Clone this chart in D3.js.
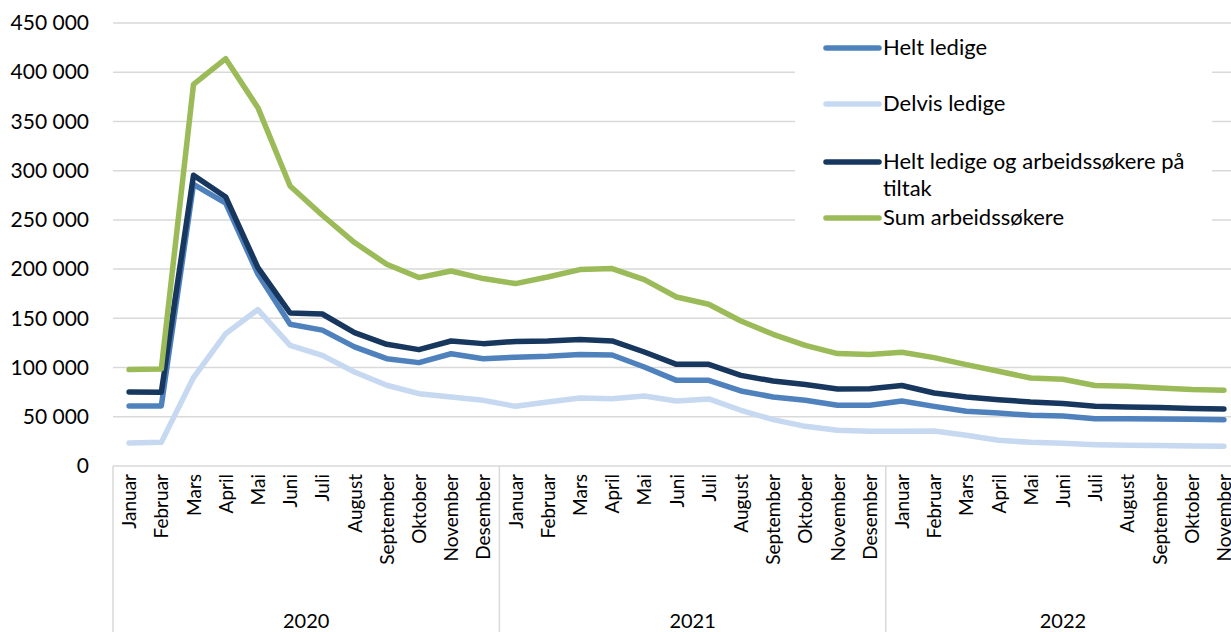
<!DOCTYPE html>
<html>
<head>
<meta charset="utf-8">
<script src="https://cdn.jsdelivr.net/npm/d3@7"></script>
<style>
  body { margin: 0; background: #fff; }
  svg { display: block; font-family: Lato, "Open Sans", sans-serif; }
</style>
</head>
<body>
<svg id="chart" width="1231" height="632"></svg>
<script>
var months = ["Januar", "Februar", "Mars", "April", "Mai", "Juni", "Juli", "August",
  "September", "Oktober", "November", "Desember"];
var years = ["2020", "2021", "2022"];
var monthsPerYear = [12, 12, 11];

var heltLedige = [61000, 61000, 286000, 267000, 195000, 144000, 138000, 121000, 109000, 105000, 114000, 109000,
  110500, 111400, 113200, 112800, 100600, 87000, 87000, 76200, 70100, 66700, 61700, 61700,
  66000, 60600, 55600, 53800, 51500, 50800, 48100, 48100, 47700, 47400, 47100];
var delvisLedige = [23400, 24000, 89800, 134500, 158900, 122600, 112400, 95500, 82000, 73500, 70100, 66700,
  60600, 65000, 69100, 68400, 71100, 66000, 68100, 56600, 47100, 40300, 36300, 35200,
  35400, 35600, 31200, 26100, 24100, 23100, 21700, 21000, 20700, 20300, 20000];
var heltOgTiltak = [75200, 74800, 295300, 273300, 201500, 155400, 154400, 135500, 123600, 118200, 127000, 124300,
  126500, 127000, 128400, 127000, 115800, 103300, 103300, 92100, 86300, 82700, 78200, 78400,
  81800, 74200, 70100, 67400, 65000, 63400, 60600, 59900, 59300, 58300, 57900];
var sumSokere = [97900, 98500, 387700, 413800, 364000, 284400, 254700, 227000, 204900, 191400, 198100, 190400,
  185300, 192000, 199500, 200500, 189300, 171700, 164300, 147300, 133800, 122600, 114200, 113200,
  115500, 110100, 103000, 96200, 89400, 88100, 81700, 81000, 79200, 77600, 76900];

var yTicks = [0, 50000, 100000, 150000, 200000, 250000, 300000, 350000, 400000, 450000];

var series = [
  { name: "Helt ledige", values: heltLedige, color: "#4f81bd" },
  { name: "Delvis ledige", values: delvisLedige, color: "#c6d9f1" },
  { name: "Helt ledige og arbeidssøkere på tiltak", values: heltOgTiltak, color: "#17375e" },
  { name: "Sum arbeidssøkere", values: sumSokere, color: "#9bbb59" }
];

// one label per month across all years
var labels = [];
years.forEach(function(y, i) {
  for (var m = 0; m < monthsPerYear[i]; m++) labels.push(y + "-" + m);
});

var svg = d3.select("#chart");
var plotLeft = 113, plotTop = 23, plotBottom = 466;
var x = d3.scaleBand().domain(labels).range([plotLeft, plotLeft + labels.length * 32.2]);
var y = d3.scaleLinear().domain([0, 450000]).range([plotBottom, plotTop]);
var fmt = function(d) { return d3.format(",")(d).replace(/,/g, " "); };

// gridlines
svg.append("g").selectAll("line")
  .data(yTicks.slice(1))
  .enter().append("line")
    .attr("x1", plotLeft)
    .attr("x2", 1231)
    .attr("y1", function(d) { return y(d); })
    .attr("y2", function(d) { return y(d); })
    .attr("stroke", "#d9d9d9")
    .attr("stroke-width", 1.5);

// y axis labels
var yAxis = svg.append("g")
  .attr("transform", "translate(" + plotLeft + ",0)")
  .call(d3.axisLeft(y).tickValues(yTicks).tickFormat(fmt).tickSize(0).tickPadding(24));
yAxis.select(".domain").remove();
yAxis.selectAll("text")
  .attr("font-size", 21)
  .attr("font-family", "Lato, 'Open Sans', sans-serif")
  .attr("fill", "#000");

// x axis line and year separators
svg.append("line")
  .attr("x1", plotLeft).attr("x2", 1231)
  .attr("y1", plotBottom).attr("y2", plotBottom)
  .attr("stroke", "#d9d9d9").attr("stroke-width", 1.5);

var start = 0;
years.forEach(function(yr, i) {
  var x0 = x(labels[start]);
  var x1 = x(labels[start + monthsPerYear[i] - 1]) + x.bandwidth();
  svg.append("line")
    .attr("x1", x0).attr("x2", x0)
    .attr("y1", plotBottom).attr("y2", 632)
    .attr("stroke", "#d9d9d9").attr("stroke-width", 1.5);
  svg.append("text")
    .attr("x", (x0 + x1) / 2)
    .attr("y", 628)
    .attr("text-anchor", "middle")
    .attr("font-size", 20)
    .text(yr);
  start += monthsPerYear[i];
});

// month labels, rotated
svg.append("g").selectAll("text")
  .data(labels)
  .enter().append("text")
    .attr("transform", function(d) {
      return "translate(" + (x(d) + x.bandwidth() / 2 + 7) + "," + (plotBottom + 8) + ") rotate(-90)";
    })
    .attr("text-anchor", "end")
    .attr("font-size", 19)
    .text(function(d) { return months[+d.split("-")[1]]; });

// lines
var line = d3.line()
  .x(function(d, i) { return x(labels[i]) + x.bandwidth() / 2; })
  .y(function(d) { return y(d); });

svg.append("g").selectAll("path")
  .data(series)
  .enter().append("path")
    .attr("d", function(s) { return line(s.values); })
    .attr("fill", "none")
    .attr("stroke", function(s) { return s.color; })
    .attr("stroke-width", 5.5)
    .attr("stroke-linejoin", "round")
    .attr("stroke-linecap", "round");

// legend
var legend = svg.append("g");
legend.append("rect")
  .attr("x", 795).attr("y", 30)
  .attr("width", 417).attr("height", 210)
  .attr("fill", "#fff");

var legendRows = [
  { s: series[0], y: 48, lines: ["Helt ledige"] },
  { s: series[1], y: 104, lines: ["Delvis ledige"] },
  { s: series[2], y: 162, lines: ["Helt ledige og arbeidssøkere på", "tiltak"] },
  { s: series[3], y: 218, lines: ["Sum arbeidssøkere"] }
];
legendRows.forEach(function(r) {
  legend.append("line")
    .attr("x1", 826).attr("x2", 879)
    .attr("y1", r.y).attr("y2", r.y)
    .attr("stroke", r.s.color)
    .attr("stroke-width", 5.5)
    .attr("stroke-linecap", "round");
  r.lines.forEach(function(t, k) {
    legend.append("text")
      .attr("x", 883)
      .attr("y", r.y + 7 + k * 27)
      .attr("font-size", 22)
      .text(t);
  });
});
</script>
</body>
</html>
